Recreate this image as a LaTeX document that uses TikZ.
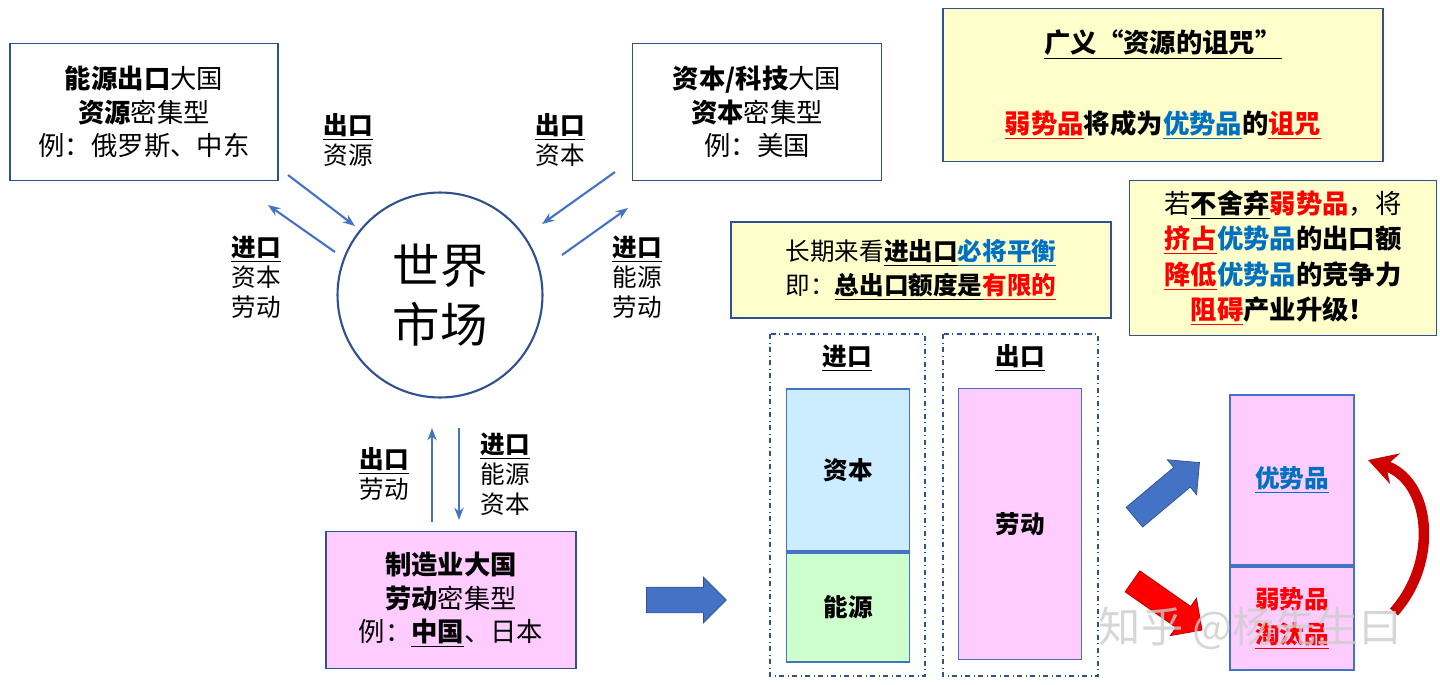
\documentclass[tikz,border=0pt]{standalone}
\usepackage{fontspec}
\setmainfont{Noto Sans CJK SC}
\usetikzlibrary{arrows.meta,shapes.arrows}
\definecolor{edgeblue}{RGB}{47,82,143}
\definecolor{arrblue}{RGB}{68,114,196}
\definecolor{pinkfill}{RGB}{255,204,255}
\definecolor{yelfill}{RGB}{255,255,204}
\definecolor{capblue}{RGB}{204,236,255}
\definecolor{engreen}{RGB}{204,255,204}
\definecolor{txtblue}{RGB}{0,112,192}
\newcommand{\bu}[1]{\textbf{\underline{#1}}}
\newcommand{\rd}[1]{\textcolor{red}{\bu{#1}}}
\newcommand{\bl}[1]{\textcolor{txtblue}{\textbf{#1}}}
\begin{document}
\begin{tikzpicture}[x=0.02cm,y=-0.02cm]
 \tikzset{
  box/.style={draw=edgeblue,line width=1pt,align=center,font=\fontsize{15}{19}\selectfont},
  lbl/.style={align=center,font=\fontsize{14}{17}\selectfont,inner sep=0pt},
  flow/.style={-{Stealth[length=7pt]},arrblue,line width=1.2pt},
  bar/.style={draw=arrblue,line width=1pt,font=\fontsize{14}{17}\selectfont\bfseries},
  dashbox/.style={draw=edgeblue,dash dot,line width=0.6pt},
  bigarr/.style={single arrow,fill=arrblue,draw=edgeblue,minimum height=1.6cm,inner xsep=0pt,inner ysep=0.25cm,single arrow head extend=0.2cm}
 }
\useasboundingbox (0,0) rectangle (1440,684);
% left side: the world market
\node[box,minimum width=5.36cm,minimum height=2.74cm] (res) at (144,112)
  {\textbf{能源出口}大国\\\textbf{资源}密集型\\例：俄罗斯、中东};
\node[box,minimum width=4.98cm,minimum height=2.74cm] (cap) at (757,112)
  {\textbf{资本/科技}大国\\\textbf{资本}密集型\\例：美国};
\node[draw=edgeblue,line width=1.2pt,circle,minimum size=4.1cm,align=center,font=\fontsize{27}{34}\selectfont] (mkt) at (440,295) {世界\\市场};
\node[box,fill=pinkfill,minimum width=5cm,minimum height=2.74cm] (mfg) at (451,600)
  {\textbf{制造业大国}\\\textbf{劳动}密集型\\例：\bu{中国}、日本};
\coordinate (a1) at (288,175); \coordinate (a2) at (355,226);
\coordinate (a3) at (335,252); \coordinate (a4) at (268,205);
\coordinate (a5) at (615,172); \coordinate (a6) at (542,224);
\coordinate (a7) at (562,255); \coordinate (a8) at (628,208);
\coordinate (a9) at (432,522); \coordinate (a10) at (432,428);
\coordinate (a11) at (459,428); \coordinate (a12) at (459,520);
\draw[flow] (a1) -- (a2);
\draw[flow] (a3) -- (a4);
\draw[flow] (a5) -- (a6);
\draw[flow] (a7) -- (a8);
\draw[flow] (a9) -- (a10);
\draw[flow] (a11) -- (a12);
\node[lbl] (l1) at (348,140) {\bu{出口}\\资源};
\node[lbl] (l2) at (256,277) {\bu{进口}\\资本\\劳动};
\node[lbl] (l3) at (560,140) {\bu{出口}\\资本};
\node[lbl] (l4) at (637,277) {\bu{进口}\\能源\\劳动};
\node[lbl] (l5) at (384,474) {\bu{出口}\\劳动};
\node[lbl] (l6) at (505,474) {\bu{进口}\\能源\\资本};
\node[bigarr] (go) at (680,600) {};
% right side: the balance
\node[box,fill=yelfill,minimum width=7.6cm,minimum height=1.92cm,font=\fontsize{14}{19}\selectfont] (bal) at (921,270)
  {长期来看\bu{进出口}\bl{\underline{必将平衡}}\\即：\bu{总出口额度是}\rd{有限的}};
\draw[dashbox] (770,334) rectangle (925,676);
\draw[dashbox] (943,334) rectangle (1098,676);
\node[lbl] (imp) at (847,358) {\bu{进口}};
\node[lbl] (exp) at (1020,358) {\bu{出口}};
\node[bar,fill=capblue,minimum width=2.46cm,minimum height=3.24cm] (bcap) at (848,470) {资本};
\node[bar,fill=engreen,minimum width=2.46cm,minimum height=2.18cm,anchor=north] (beng) at (bcap.south) {能源};
\node[bar,fill=pinkfill,minimum width=2.46cm,minimum height=5.42cm] (blab) at (1020,524) {劳动};
\node[box,fill=yelfill,minimum width=8.8cm,minimum height=3.06cm,font=\fontsize{15}{24}\selectfont] (curse) at (1163,85)
  {\bu{广义“资源的诅咒”}\\[22pt]\rd{弱势品}\textbf{将成为}\textcolor{txtblue}{\bu{优势品}}\textbf{的}\rd{诅咒}};
\node[box,fill=yelfill,minimum width=6.14cm,minimum height=3.1cm,font=\fontsize{15}{20}\selectfont] (warn) at (1283,258)
  {若\bu{不舍弃}\textcolor{red}{\textbf{弱势品}}，将\\\rd{挤占}\bl{优势品}\textbf{的出口额}\\\rd{降低}\bl{优势品}\textbf{的竞争力}\\\rd{阻碍}\textbf{产业升级！}};
\node[bar,fill=pinkfill,minimum width=2.48cm,minimum height=3.4cm,font=\fontsize{14}{17}\selectfont] (good) at (1292,480) {\textcolor{txtblue}{\bu{优势品}}};
\node[bar,fill=pinkfill,minimum width=2.48cm,minimum height=2.06cm,anchor=north,align=center,font=\fontsize{14}{20}\selectfont] (weak) at (good.south) {\textcolor{red}{\textbf{弱势品}}\\\textcolor{red}{\bu{淘汰品}}};
\node[bigarr,minimum height=1.7cm,rotate=40] (up) at (1162,494) {};
\node[bigarr,fill=red,draw=red!70!black,minimum height=1.7cm,rotate=-35] (down) at (1162,602) {};
\coordinate (c1) at (1394,612); \coordinate (c2) at (1368,460);
\draw[-{Stealth[length=16pt,width=18pt]},red,draw=red!80!black,line width=6pt] (c1) .. controls (1440,560) and (1430,480) .. (c2);
\node[text=gray!40,opacity=0.8,font=\fontsize{24}{28}\selectfont] (wm) at (1250,628) {知乎 @杨先生曰};
\end{tikzpicture}
\end{document}
